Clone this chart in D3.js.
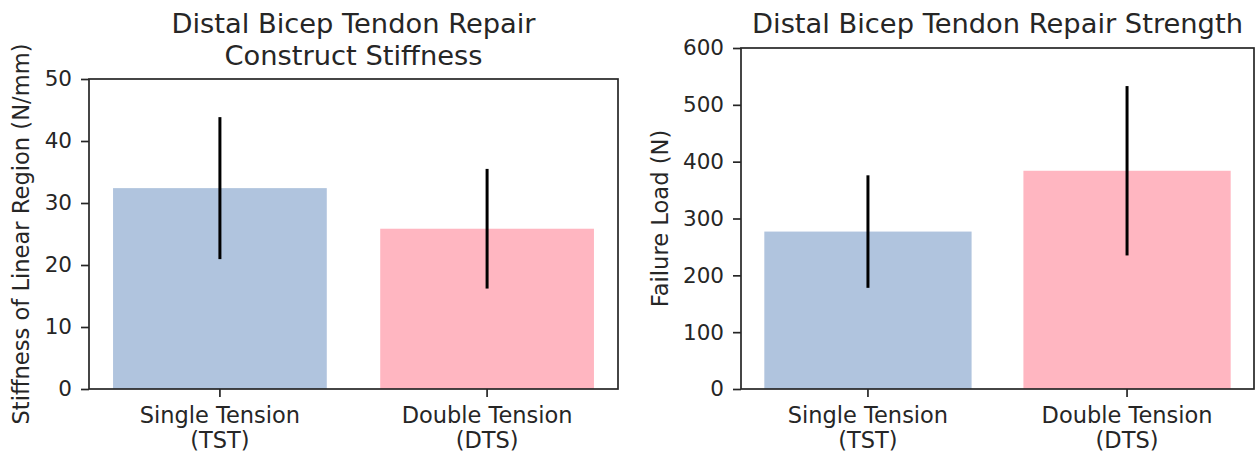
<!DOCTYPE html>
<html>
<head>
<meta charset="utf-8">
<script src="https://cdn.jsdelivr.net/npm/d3@7"></script>
<style>
  body { margin: 0; background: #fff; }
  svg text { font-family: "DejaVu Sans", sans-serif; fill: #262626; }
</style>
</head>
<body>
<svg id="chart" width="1256" height="456"></svg>
<script>
// data
var groupNames = ["Single Tension", "Double Tension"];
var groupCodes = ["TST", "DTS"];
var barColors = ["#b0c4de", "#ffb6c1"];

var stiffnessMean = [32.4, 25.85];
var stiffnessErr = [11.45, 9.65];
var stiffnessTicks = [0, 10, 20, 30, 40, 50];

var strengthMean = [277, 384];
var strengthErr = [99, 149];
var strengthTicks = [0, 100, 200, 300, 400, 500, 600];

var svg = d3.select("#chart");

var drawPanel = function(opts) {
  var g = svg.append("g");

  var x = d3.scaleBand()
      .domain(d3.range(groupNames.length))
      .range([opts.left, opts.right])
      .paddingInner(0.2)
      .paddingOuter(0.09);

  var y = d3.scaleLinear()
      .domain([0, opts.max])
      .range([opts.bottom, opts.top]);

  var rows = opts.mean.map(function(m, i) {
    return { i: i, mean: m, err: opts.err[i] };
  });

  g.selectAll(".bar")
      .data(rows).enter().append("rect")
      .attr("class", "bar")
      .attr("x", function(d) { return x(d.i); })
      .attr("width", x.bandwidth())
      .attr("y", function(d) { return y(d.mean); })
      .attr("height", function(d) { return y(0) - y(d.mean); })
      .attr("fill", function(d) { return barColors[d.i]; });

  g.selectAll(".err")
      .data(rows).enter().append("line")
      .attr("class", "err")
      .attr("x1", function(d) { return x(d.i) + x.bandwidth() / 2; })
      .attr("x2", function(d) { return x(d.i) + x.bandwidth() / 2; })
      .attr("y1", function(d) { return y(d.mean - d.err); })
      .attr("y2", function(d) { return y(d.mean + d.err); })
      .attr("stroke", "#000")
      .attr("stroke-width", 3);

  // frame
  g.append("rect")
      .attr("x", opts.left)
      .attr("y", opts.top)
      .attr("width", opts.right - opts.left)
      .attr("height", opts.bottom - opts.top)
      .attr("fill", "none")
      .attr("stroke", "#262626")
      .attr("stroke-width", 1.7);

  var yAxis = g.append("g")
      .attr("transform", "translate(" + opts.left + ",0)")
      .call(d3.axisLeft(y).tickValues(opts.ticks).tickSize(8).tickPadding(9));
  yAxis.select(".domain").remove();
  yAxis.selectAll(".tick line").attr("stroke", "#262626").attr("stroke-width", 1.7);
  yAxis.selectAll(".tick text")
      .attr("font-size", 21.5)
      .attr("font-family", "DejaVu Sans")
      .attr("fill", "#262626");

  var xAxis = g.append("g")
      .attr("transform", "translate(0," + opts.bottom + ")")
      .call(d3.axisBottom(x).tickSize(8).tickFormat(""));
  xAxis.select(".domain").remove();
  xAxis.selectAll(".tick line").attr("stroke", "#262626").attr("stroke-width", 1.7);
  xAxis.selectAll(".tick").each(function(d) {
    var t = d3.select(this).append("text")
        .attr("text-anchor", "middle")
        .attr("font-size", 22.5);
    t.append("tspan").attr("x", 0).attr("y", 34).text(groupNames[d]);
    t.append("tspan").attr("x", 0).attr("y", 59).text("(" + groupCodes[d] + ")");
  });

  var cx = (opts.left + opts.right) / 2;
  var title = g.append("text")
      .attr("text-anchor", "middle")
      .attr("font-size", 27.3);
  opts.title.forEach(function(line, k) {
    title.append("tspan")
        .attr("x", cx)
        .attr("y", opts.titleY + k * 32)
        .text(line);
  });

  g.append("text")
      .attr("text-anchor", "middle")
      .attr("font-size", 22.6)
      .attr("transform", "translate(" + opts.labelX + "," + (opts.top + opts.bottom) / 2 + ") rotate(-90)")
      .text(opts.label);
};

drawPanel({
  left: 89, right: 618, top: 79, bottom: 389,
  max: 50, ticks: stiffnessTicks,
  mean: stiffnessMean, err: stiffnessErr,
  title: ["Distal Bicep Tendon Repair", "Construct Stiffness"], titleY: 33,
  label: "Stiffness of Linear Region (N/mm)", labelX: 29
});

drawPanel({
  left: 741, right: 1254, top: 48, bottom: 389,
  max: 600, ticks: strengthTicks,
  mean: strengthMean, err: strengthErr,
  title: ["Distal Bicep Tendon Repair Strength"], titleY: 33,
  label: "Failure Load (N)", labelX: 668
});
</script>
</body>
</html>
